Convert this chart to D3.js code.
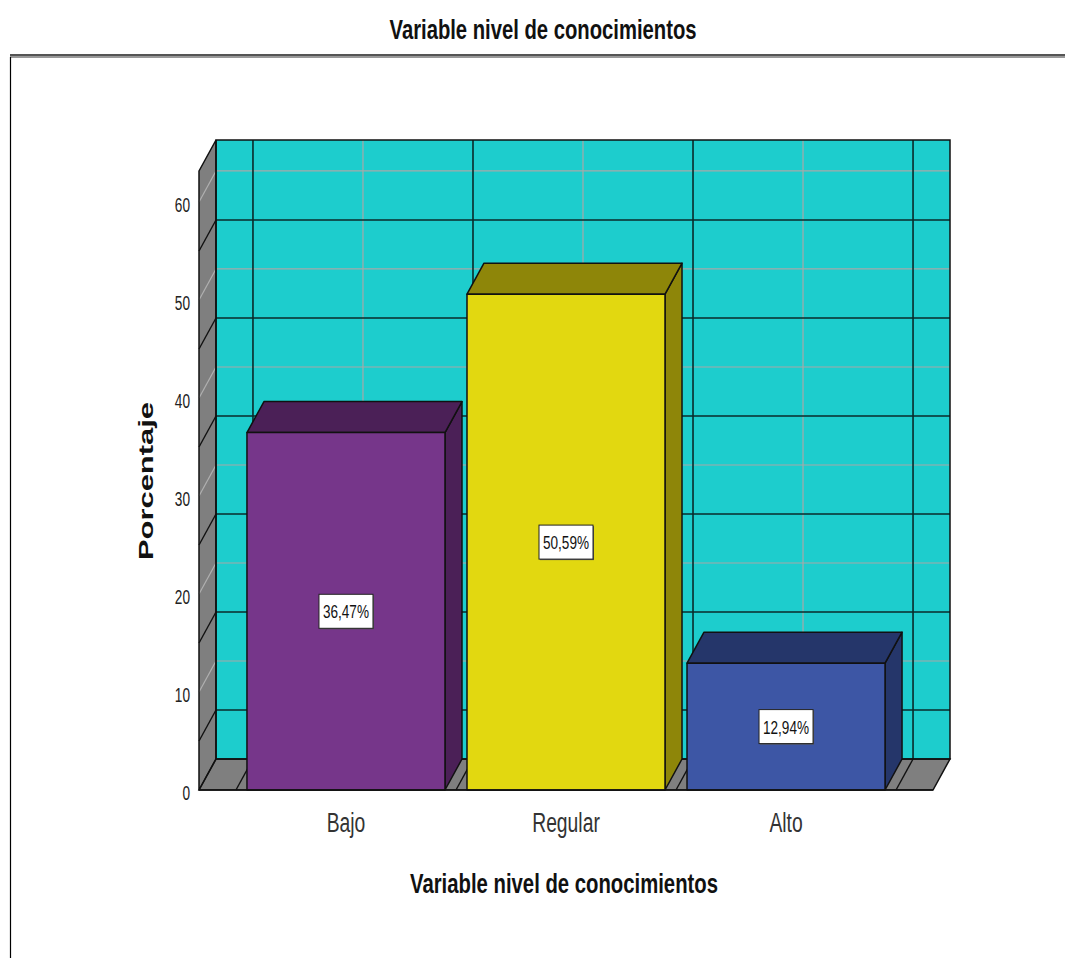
<!DOCTYPE html>
<html><head><meta charset="utf-8">
<script src="https://cdn.jsdelivr.net/npm/d3@7"></script>
<style>body{margin:0;background:#fff}svg{display:block}text{font-family:"Liberation Sans",Arial,sans-serif}</style>
</head><body>
<svg id="c" width="1065" height="958"></svg>
<script>
const categories = ["Bajo", "Regular", "Alto"];
const values = [36.47, 50.59, 12.94];
const valueLabels = ["36,47%", "50,59%", "12,94%"];
const yTicks = [0, 10, 20, 30, 40, 50, 60];
const gridMinor = [5, 15, 25, 35, 45, 55];
const frontColors = ["#76368a", "#e2d810", "#3d56a5"];
const darkColors = ["#4b2057", "#8e8609", "#25366a"];
const title = "Variable nivel de conocimientos";
const xTitle = "Variable nivel de conocimientos";
const yTitle = "Porcentaje";

const svg = d3.select("#c");
const dx = 17, dy = -31;
const y = d3.scaleLinear().domain([0, 63.16]).range([790, 171]);
const x = d3.scaleBand().domain(categories).range([199, 933]).paddingInner(0).paddingOuter(0.168);
const x0 = 199, x1 = 933, yb = y(0), yt = y.range()[1];
const sx = 0.68; // horizontal squeeze of the reference's text

function ctext(parent, tx, ty, str, size, opts = {}) {
  const t = parent.append("text").attr("transform", `translate(${tx},${ty}) scale(${opts.sx || sx},1)`)
    .attr("text-anchor", opts.anchor || "middle").attr("font-size", size)
    .attr("font-weight", opts.weight || "normal").attr("fill", opts.fill || "#111").text(str);
  return t;
}

// header
svg.append("text").attr("x", 543).attr("y", 39).attr("text-anchor", "middle")
  .attr("font-size", 28).attr("font-weight", "bold").attr("textLength", 307).attr("lengthAdjust", "spacingAndGlyphs")
  .attr("fill", "#111").text(title);
svg.append("rect").attr("x", 10).attr("y", 54).attr("width", 1055).attr("height", 2).attr("fill", "#555");
svg.append("rect").attr("x", 10).attr("y", 56).attr("width", 1055).attr("height", 2).attr("fill", "#999");
svg.append("line").attr("x1", 10.5).attr("x2", 10.5).attr("y1", 57).attr("y2", 958).attr("stroke", "#000").attr("stroke-width", 1.2);

// back wall
const g = svg.append("g");
g.append("rect").attr("x", x0 + dx).attr("y", yt + dy).attr("width", x1 - x0).attr("height", yb - yt)
  .attr("fill", "#1dcdcd");
const poly = pts => pts.map(p => p.join(",")).join(" ");
g.append("polygon").attr("points", poly([[x0, yt], [x0 + dx, yt + dy], [x0 + dx, yb + dy], [x0, yb]]))
  .attr("fill", "#7f7f7f");
g.append("polygon").attr("points", poly([[x0, yb], [x0 + dx, yb + dy], [x1 + dx, yb + dy], [x1, yb]]))
  .attr("fill", "#7f7f7f");

yTicks.filter(v => v > 0).forEach(v => {
  g.append("line").attr("x1", x0 + dx).attr("x2", x1 + dx).attr("y1", y(v) + dy).attr("y2", y(v) + dy)
    .attr("stroke", "#a8a8a8").attr("stroke-width", 1.2);
  g.append("line").attr("x1", x0).attr("x2", x0 + dx).attr("y1", y(v)).attr("y2", y(v) + dy)
    .attr("stroke", "#b0b0b0").attr("stroke-width", 1.2);
});
categories.forEach(c => {
  const cx = x(c) + x.bandwidth() / 2 + dx;
  g.append("line").attr("x1", cx).attr("x2", cx).attr("y1", yt + dy).attr("y2", yb + dy)
    .attr("stroke", "#a8a8a8").attr("stroke-width", 1.2);
});
gridMinor.forEach(v => {
  g.append("line").attr("x1", x0 + dx).attr("x2", x1 + dx).attr("y1", y(v) + dy).attr("y2", y(v) + dy)
    .attr("stroke", "#0a2a2a").attr("stroke-width", 1.6);
  g.append("line").attr("x1", x0).attr("x2", x0 + dx).attr("y1", y(v)).attr("y2", y(v) + dy)
    .attr("stroke", "#111").attr("stroke-width", 1.4);
});
const bounds = categories.map(c => x(c)).concat([x(categories[categories.length - 1]) + x.bandwidth()]);
bounds.forEach(b => {
  g.append("line").attr("x1", b + dx).attr("x2", b + dx).attr("y1", yt + dy).attr("y2", yb + dy)
    .attr("stroke", "#0a2a2a").attr("stroke-width", 1.6);
  g.append("line").attr("x1", b).attr("x2", b + dx).attr("y1", yb).attr("y2", yb + dy)
    .attr("stroke", "#111").attr("stroke-width", 1.4);
});
g.append("line").attr("x1", x0).attr("x2", x0 + dx).attr("y1", yb).attr("y2", yb + dy)
  .attr("stroke", "#b0b0b0").attr("stroke-width", 1.2);
g.append("rect").attr("x", x0 + dx).attr("y", yt + dy).attr("width", x1 - x0).attr("height", yb - yt)
  .attr("fill", "none").attr("stroke", "#111").attr("stroke-width", 1.5);
g.append("polygon").attr("points", poly([[x0, yt], [x0 + dx, yt + dy], [x0 + dx, yb + dy], [x0, yb]]))
  .attr("fill", "none").attr("stroke", "#111").attr("stroke-width", 1.5);
g.append("polygon").attr("points", poly([[x0, yb], [x0 + dx, yb + dy], [x1 + dx, yb + dy], [x1, yb]]))
  .attr("fill", "none").attr("stroke", "#111").attr("stroke-width", 1.5);

// bars
const bw = x.bandwidth() * 0.9;
categories.forEach((c, i) => {
  const bx0 = x(c) + (x.bandwidth() - bw) / 2, bx1 = bx0 + bw, vy = y(values[i]);
  const bg = svg.append("g").attr("stroke", "#111").attr("stroke-width", 1.5).attr("stroke-linejoin", "round");
  bg.append("polygon").attr("points", poly([[bx1, vy], [bx1 + dx, vy + dy], [bx1 + dx, yb + dy], [bx1, yb]]))
    .attr("fill", darkColors[i]);
  bg.append("polygon").attr("points", poly([[bx0, vy], [bx0 + dx, vy + dy], [bx1 + dx, vy + dy], [bx1, vy]]))
    .attr("fill", darkColors[i]);
  bg.append("rect").attr("x", bx0).attr("y", vy).attr("width", bw).attr("height", yb - vy)
    .attr("fill", frontColors[i]);
  const cx = x(c) + x.bandwidth() / 2, cy = y(values[i] / 2);
  svg.append("rect").attr("x", cx - 26).attr("y", cy - 16).attr("width", 54).attr("height", 34).attr("fill", "#555");
  svg.append("rect").attr("x", cx - 27).attr("y", cy - 17).attr("width", 54).attr("height", 34)
    .attr("fill", "#fff").attr("stroke", "#222").attr("stroke-width", 1);
  svg.append("text").attr("x", cx).attr("y", cy + 7).attr("text-anchor", "middle").attr("font-size", 19)
    .attr("textLength", 46).attr("lengthAdjust", "spacingAndGlyphs").attr("fill", "#111").text(valueLabels[i]);
});
svg.append("line").attr("x1", x0).attr("x2", x1).attr("y1", yb).attr("y2", yb).attr("stroke", "#111").attr("stroke-width", 1.5);

// y tick labels
yTicks.forEach(v => ctext(svg, 190, y(v) + 10, v, 21, { anchor: "end", sx: 0.65, fill: "#222" }));
// category labels
categories.forEach(c => ctext(svg, x(c) + x.bandwidth() / 2, 832, c, 28, { sx: 0.69, fill: "#333" }));
// axis titles
svg.append("text").attr("x", 564).attr("y", 893).attr("text-anchor", "middle").attr("font-size", 28)
  .attr("font-weight", "bold").attr("textLength", 308).attr("lengthAdjust", "spacingAndGlyphs").attr("fill", "#111").text(xTitle);
svg.append("text").attr("transform", "translate(153,481) rotate(-90)").attr("text-anchor", "middle")
  .attr("font-size", 21).attr("font-weight", "bold").attr("textLength", 158).attr("lengthAdjust", "spacingAndGlyphs")
  .attr("fill", "#111").text(yTitle);
</script>
</body></html>
